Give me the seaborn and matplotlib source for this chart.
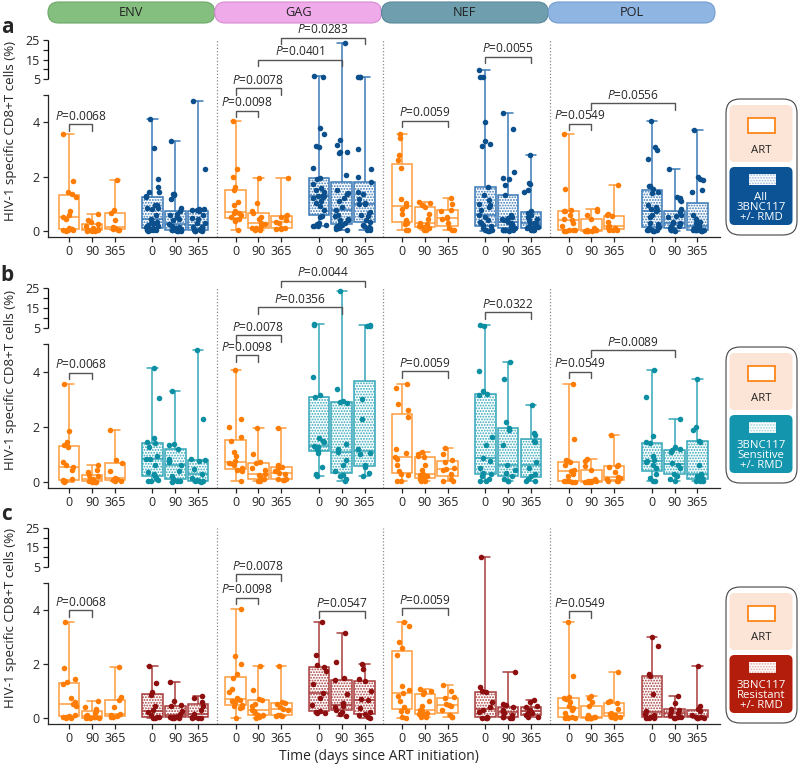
import numpy as np
import pandas as pd
import seaborn as sns
import matplotlib.pyplot as plt
from matplotlib.patches import FancyBboxPatch, Rectangle
from matplotlib.ticker import FixedLocator, FixedFormatter
from matplotlib.transforms import blended_transform_factory

genes = ['ENV', 'GAG', 'NEF', 'POL']
days = ['0', '90', '365']

# HIV-1 specific CD8+T cells (%), lists are day 0 / 90 / 365
# ART alone (same participants in every row)
art_env = [[3.57, 1.85, 1.45, 1.35, 1.27, 0.74, 0.6, 0.53, 0.45, 0.12, 0.08, 0.05, 0.03, 0.02, 0.01],
           [0.62, 0.42, 0.35, 0.27, 0.2, 0.12, 0.09, 0.05, 0.03, 0.02, 0.01, 0.01, 0.0],
           [1.88, 0.78, 0.68, 0.4, 0.15, 0.1, 0.06, 0.04, 0.03]]
art_gag = [[4.05, 2.3, 2.0, 1.62, 1.5, 1.08, 0.95, 0.75, 0.68, 0.65, 0.6, 0.5, 0.44, 0.42, 0.38, 0.02],
           [1.94, 1.03, 0.72, 0.68, 0.52, 0.45, 0.3, 0.25, 0.2, 0.12, 0.1, 0.05, 0.02],
           [1.94, 0.6, 0.56, 0.52, 0.4, 0.33, 0.3, 0.12, 0.1, 0.08, 0.06]]
art_nef = [[3.57, 3.42, 2.82, 2.6, 2.34, 1.18, 1.05, 0.91, 0.82, 0.62, 0.4, 0.28, 0.25, 0.03, 0.02],
           [1.07, 1.02, 0.95, 0.89, 0.62, 0.45, 0.3, 0.25, 0.2, 0.15, 0.1, 0.05, 0.03],
           [1.23, 1.0, 0.78, 0.74, 0.52, 0.48, 0.45, 0.3, 0.1, 0.05, 0.03]]
art_pol = [[3.57, 1.56, 0.78, 0.75, 0.72, 0.6, 0.45, 0.39, 0.3, 0.2, 0.05, 0.03, 0.02, 0.01, 0.01],
           [0.82, 0.75, 0.58, 0.45, 0.1, 0.05, 0.03, 0.02, 0.02, 0.01, 0.01, 0.01, 0.0],
           [1.69, 0.62, 0.58, 0.55, 0.35, 0.17, 0.15, 0.1, 0.05, 0.03, 0.02]]

# 3BNC117 +/- RMD, sensitive viruses
sens_env = [[4.12, 3.05, 1.61, 1.45, 1.42, 1.27, 0.95, 0.85, 0.82, 0.6, 0.35, 0.3, 0.2, 0.15, 0.08, 0.04, 0.02],
            [3.31, 1.36, 1.33, 1.18, 0.85, 0.73, 0.6, 0.4, 0.2, 0.1, 0.05, 0.02, 0.01],
            [4.79, 2.3, 0.82, 0.78, 0.75, 0.48, 0.3, 0.15, 0.08, 0.05, 0.03, 0.02, 0.01]]
sens_gag = [[6.8, 6.3, 3.8, 3.15, 3.09, 1.6, 1.5, 1.45, 1.3, 1.28, 1.27, 1.2, 1.11, 1.05, 0.55, 0.3, 0.2],
            [23.5, 3.37, 2.93, 2.9, 2.88, 1.36, 1.2, 1.09, 0.79, 0.6, 0.4, 0.25, 0.2, 0.1, 0.05],
            [6.1, 6.0, 5.9, 3.02, 2.3, 1.18, 1.05, 1.0, 0.6, 0.55, 0.34, 0.2]]
sens_nef = [[6.3, 5.9, 4.01, 3.3, 3.2, 3.15, 1.62, 1.33, 0.87, 0.76, 0.5, 0.34, 0.3, 0.2, 0.1, 0.05, 0.02],
            [4.36, 3.75, 2.17, 1.94, 1.9, 1.33, 0.6, 0.45, 0.34, 0.2, 0.1, 0.05, 0.02],
            [2.81, 1.78, 1.72, 1.5, 1.45, 0.73, 0.5, 0.3, 0.2, 0.1, 0.05, 0.02]]
sens_pol = [[4.07, 3.1, 1.66, 1.45, 1.4, 0.95, 0.8, 0.76, 0.72, 0.6, 0.5, 0.3, 0.15, 0.05, 0.02],
            [2.28, 1.27, 1.21, 1.15, 1.1, 0.7, 0.6, 0.5, 0.3, 0.2, 0.1, 0.03],
            [3.72, 2.0, 1.88, 1.5, 1.45, 0.6, 0.3, 0.2, 0.15, 0.1, 0.05, 0.03, 0.02]]

# 3BNC117 +/- RMD, resistant viruses
res_env = [[1.93, 1.3, 0.95, 0.85, 0.45, 0.3, 0.22, 0.1, 0.05, 0.03, 0.02, 0.01],
           [1.35, 0.62, 0.5, 0.45, 0.27, 0.15, 0.08, 0.05, 0.03, 0.02, 0.01, 0.01],
           [0.8, 0.76, 0.6, 0.46, 0.3, 0.15, 0.05, 0.03, 0.02, 0.01, 0.01]]
res_gag = [[3.57, 2.33, 1.95, 1.9, 1.75, 1.28, 0.94, 0.76, 0.5, 0.25, 0.22, 0.2, 0.18],
           [3.16, 2.08, 1.5, 1.4, 0.89, 0.55, 0.45, 0.42, 0.3, 0.23, 0.15, 0.06],
           [2.0, 1.8, 1.45, 1.38, 1.0, 0.7, 0.68, 0.39, 0.21, 0.15, 0.12, 0.05, 0.02]]
res_nef = [[9.9, 1.16, 1.0, 0.95, 0.6, 0.4, 0.3, 0.21, 0.03, 0.02, 0.01, 0.01],
           [1.69, 0.52, 0.48, 0.4, 0.3, 0.27, 0.2, 0.12, 0.05, 0.03, 0.02, 0.01],
           [0.68, 0.6, 0.45, 0.4, 0.3, 0.25, 0.2, 0.15, 0.1, 0.05, 0.03]]
res_pol = [[3.0, 2.67, 1.65, 1.55, 0.89, 0.27, 0.15, 0.12, 0.03, 0.02, 0.01, 0.0],
           [0.8, 0.55, 0.35, 0.3, 0.25, 0.2, 0.1, 0.05, 0.03, 0.02, 0.01],
           [1.92, 0.45, 0.33, 0.25, 0.1, 0.05, 0.03, 0.02, 0.01, 0.01]]

# P values: (gene, left box, right box, bracket height in axis units, value)
pvals_a = [(0, 0, 1, 3.94, '0.0068'), (1, 0, 1, 4.44, '0.0098'), (1, 0, 2, 5.27, '0.0078'),
           (1, 1, 4, 6.31, '0.0401'), (1, 2, 5, 7.13, '0.0283'), (2, 0, 2, 4.07, '0.0059'),
           (2, 3, 5, 6.42, '0.0055'), (3, 0, 1, 3.95, '0.0549'), (3, 1, 4, 4.71, '0.0556')]
pvals_b = [(0, 0, 1, 3.96, '0.0068'), (1, 0, 1, 4.6, '0.0098'), (1, 0, 2, 5.32, '0.0078'),
           (1, 1, 4, 6.35, '0.0356'), (1, 2, 5, 7.3, '0.0044'), (2, 0, 2, 4.02, '0.0059'),
           (2, 3, 5, 6.17, '0.0322'), (3, 0, 1, 4.0, '0.0549'), (3, 1, 4, 4.79, '0.0089')]
pvals_c = [(0, 0, 1, 4.0, '0.0068'), (1, 0, 1, 4.46, '0.0098'), (1, 0, 2, 5.32, '0.0078'),
           (1, 3, 5, 3.96, '0.0547'), (2, 0, 2, 4.06, '0.0059'), (3, 0, 1, 3.96, '0.0549')]

# broken y axis: 0-5 linear, then 5-25 squeezed
GAP, K = 0.6, 0.072
YLO, YHI = -0.22, 25


def fwd(y):
    y = np.asarray(y, dtype=float)
    return np.where(y <= 5, y, 5 + GAP + (y - 5) * K)


def inv(t):
    t = np.asarray(t, dtype=float)
    return np.where(t <= 5, t, np.where(t < 5 + GAP, 5.0, 5 + (t - 5 - GAP) / K))


T_LO, T_HI = float(fwd(YLO)), float(fwd(YHI))

STEP = 7.3
OFFS = [0, 1, 2, 3.65, 4.65, 5.65]
XLO, XHI = -0.93, 28.54

ART_PT, ART_LN = '#ff7d05', '#ff9b3d'


def xpos(g, i):
    return STEP * g + OFFS[i]


def long_table(arrays, first):
    recs = []
    for g, per_gene in enumerate(arrays):
        for t, vals in enumerate(per_gene):
            recs += [(xpos(g, first + t), v) for v in vals]
    return pd.DataFrame(recs, columns=['pos', 'pct'])


def tfrac(t):
    return (t - T_LO) / (T_HI - T_LO)


def draw_row(ax, trt, pt_col, ln_col, pvals):
    ax.set_yscale('function', functions=(fwd, inv))
    art_df = long_table([art_env, art_gag, art_nef, art_pol], 0)
    trt_df = long_table(trt, 3)

    sns.boxplot(data=art_df, x='pos', y='pct', orient='x', native_scale=True, whis=(0, 100),
                width=0.9, color='white', linecolor=ART_LN, linewidth=1.1, ax=ax)
    n0 = len(ax.patches)
    sns.boxplot(data=trt_df, x='pos', y='pct', orient='x', native_scale=True, whis=(0, 100),
                width=0.9, color='white', linecolor=ln_col, linewidth=1.1, ax=ax)
    for patch in ax.patches[n0:]:
        patch.set_hatch('......')

    sns.stripplot(data=art_df, x='pos', y='pct', orient='x', native_scale=True, jitter=0.3,
                  size=4, color=ART_PT, linewidth=0, zorder=4, ax=ax)
    sns.stripplot(data=trt_df, x='pos', y='pct', orient='x', native_scale=True, jitter=0.3,
                  size=4, color=pt_col, linewidth=0, zorder=4, ax=ax)

    for g in range(1, 4):
        ax.axvline(STEP * g - 0.82, color='#8a8a8a', ls=(0, (1, 1.6)), lw=0.9, zorder=0)

    tr = blended_transform_factory(ax.transData, ax.transAxes)
    for g, i, j, lvl, txt in pvals:
        x0, x1 = xpos(g, i), xpos(g, j)
        ax.plot([x0, x0, x1, x1], [tfrac(lvl - 0.24), tfrac(lvl), tfrac(lvl), tfrac(lvl - 0.24)],
                transform=tr, color='#555555', lw=1.0, clip_on=False)
        ax.text((x0 + x1) / 2, tfrac(lvl + 0.05), f'$P$={txt}', transform=tr,
                ha='center', va='bottom', fontsize=8.6)

    ax.yaxis.set_major_locator(FixedLocator([0, 2, 4, 5, 5.0001, 10, 15, 20, 25]))
    ax.yaxis.set_major_formatter(FixedFormatter(['0', '2', '4', '', '5', '', '15', '', '25']))
    ax.set_xticks([xpos(g, i) for g in range(4) for i in range(6)])
    ax.set_xticklabels(days * 8)
    ax.tick_params(axis='both', length=3.8, width=0.9, labelsize=9, pad=2)

    sns.despine(ax=ax)
    ax.spines['left'].set_bounds(YLO, 5)
    ax.plot([XLO, XLO], [5.0001, 25], color='black', lw=0.9, clip_on=False, solid_capstyle='butt')

    ax.set_xlim(XLO, XHI)
    ax.set_ylim(YLO, YHI)
    ax.set_xlabel('')
    ax.set_ylabel('HIV-1 specific CD8+T cells (%)', fontsize=9.6)
    ax.yaxis.set_label_coords(-0.046, 0.54)
    ax.patch.set_alpha(0)


def draw_legend(ov, dy, box_col, hatch_col, lines):
    ov.add_patch(FancyBboxPatch((726, 99 + dy), 71, 136, boxstyle='round,pad=0,rounding_size=14',
                                fc='white', ec='#444444', lw=0.8))
    ov.add_patch(FancyBboxPatch((729.5, 105 + dy), 63, 57, boxstyle='round,pad=0,rounding_size=5',
                                fc='#fce4d6', ec='none'))
    ov.add_patch(Rectangle((748, 118 + dy), 27, 15, fc='white', ec=ART_PT, lw=1.2))
    ov.text(761, 150 + dy, 'ART', ha='center', va='center', fontsize=8.2, color='#222222')
    ov.add_patch(FancyBboxPatch((729.5, 167 + dy), 63, 58, boxstyle='round,pad=0,rounding_size=5',
                                fc=box_col, ec='none'))
    ov.add_patch(Rectangle((749, 174 + dy), 27, 11, fc='white', ec=hatch_col, lw=0, hatch='......'))
    for k, s in enumerate(lines):
        ov.text(761, 197 + 10 * k + dy, s, ha='center', va='center', fontsize=8.2, color='white')


def main():
    sns.set_style('ticks')
    plt.rcParams['font.family'] = ['Open Sans', 'DejaVu Sans']
    plt.rcParams['mathtext.fontset'] = 'custom'
    plt.rcParams['mathtext.it'] = 'Open Sans:italic'
    plt.rcParams['mathtext.rm'] = 'Open Sans'
    plt.rcParams['axes.linewidth'] = 0.9
    plt.rcParams['hatch.linewidth'] = 0.9
    np.random.seed(7)

    all_trt = [[s + r for s, r in zip(sg, rg)]
               for sg, rg in zip([sens_env, sens_gag, sens_nef, sens_pol],
                                 [res_env, res_gag, res_nef, res_pol])]

    rows = [
        dict(letter='a', top=40, bottom=237, trt=all_trt, pt='#0b4f8c', ln='#3b79b6',
             box='#0b5394', hat='#9dbbdc', lines=['All', '3BNC117', '+/- RMD'], pv=pvals_a),
        dict(letter='b', top=288, bottom=488, trt=[sens_env, sens_gag, sens_nef, sens_pol], pt='#0c8ea3',
             ln='#34a7b9', box='#1395ad', hat='#9dd3dc', lines=['3BNC117', 'Sensitive', '+/- RMD'],
             pv=pvals_b),
        dict(letter='c', top=528, bottom=724, trt=[res_env, res_gag, res_nef, res_pol], pt='#8e0f0f',
             ln='#a83d3d', box='#b21d0c', hat='#e0a9a2', lines=['3BNC117', 'Resistant', '+/- RMD'],
             pv=pvals_c),
    ]

    fig = plt.figure(figsize=(8, 7.65), dpi=100)
    W, H = 800, 765
    for r in rows:
        ax = fig.add_axes([48 / W, 1 - r['bottom'] / H, 672 / W, (r['bottom'] - r['top']) / H])
        draw_row(ax, r['trt'], r['pt'], r['ln'], r['pv'])

    ov = fig.add_axes([0, 0, 1, 1])
    ov.set_xlim(0, W)
    ov.set_ylim(H, 0)
    ov.axis('off')

    tabs = [('ENV', '#84bf80', '#6aa766'), ('GAG', '#efaaea', '#d58bd0'),
            ('NEF', '#6f9fae', '#5a8898'), ('POL', '#8fb5e3', '#739bcd')]
    for k, (name, fc, ec) in enumerate(tabs):
        x0 = 48 + k * 166.75
        ov.add_patch(FancyBboxPatch((x0, 2), 166.75, 21, boxstyle='round,pad=0,rounding_size=10.5',
                                    fc=fc, ec=ec, lw=0.8))
        ov.text(x0 + 83.4, 12.8, name, ha='center', va='center', fontsize=9.2, color='#222222')

    for r in rows:
        ov.text(7, r['top'] - 13, r['letter'], ha='center', va='center', fontsize=15, fontweight='bold')
        draw_legend(ov, r['top'] - 40, r['box'], r['hat'], r['lines'])

    ov.text(379, 756, 'Time (days since ART initiation)', ha='center', va='center', fontsize=10)

    fig.savefig('out.png', dpi=100)


if __name__ == "__main__":
    main()
